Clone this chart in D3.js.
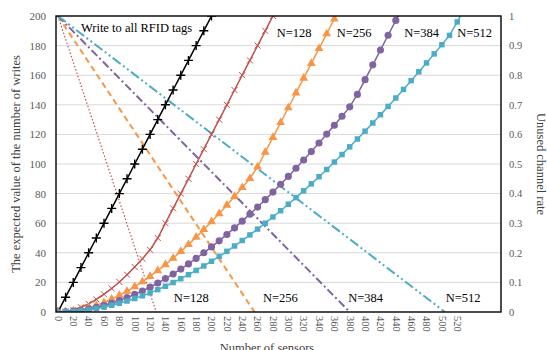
<!DOCTYPE html>
<html>
<head>
<meta charset="utf-8">
<script src="https://cdn.jsdelivr.net/npm/d3@7"></script>
<style>
    body { margin: 0; background: #fff; }
    svg { display: block; font-family: "Liberation Serif", "Times New Roman", serif; }
</style>
</head>
<body>
<svg id="chart" width="547" height="350"></svg>
<script>
// x categories (number of sensors)
const sensors = [0, 10, 20, 30, 40, 50, 60, 70, 80, 90, 100, 110, 120, 130, 140, 150, 160, 170, 180, 190,
    200, 210, 220, 230, 240, 250, 260, 270, 280, 290, 300, 310, 320, 330, 340, 350, 360, 370, 380, 390,
    400, 410, 420, 430, 440, 450, 460, 470, 480, 490, 500, 510, 520, 530];

// expected number of writes (left axis)
const writesAll = [0, 10, 20, 30, 40, 50, 60, 70, 80, 90, 100, 110, 120, 130, 140, 150, 160, 170, 180, 190, 200];
const writes128 = [0, 0.4, 1.4, 3.2, 5.5, 8.5, 12.0, 15.9, 20.3, 25.2, 30.4, 36.0, 42.0, 50, 60, 70, 80, 90,
    100, 110, 120, 130, 140, 150, 160, 170, 180, 190, 200];
const writes256 = [0, 0.2, 0.7, 1.6, 2.9, 4.5, 6.4, 8.7, 11.2, 14.0, 17.1, 20.4, 24.1, 27.9, 32.0, 36.3, 40.9,
    45.6, 50.6, 55.7, 61.0, 66.5, 72.2, 78.1, 84.1, 90.2, 98, 108, 118, 128, 138, 148, 158, 168, 178, 188, 198, 208];
const writes384 = [0, 0.1, 0.5, 1.1, 2.0, 3.1, 4.4, 5.9, 7.7, 9.7, 11.9, 14.2, 16.8, 19.6, 22.6, 25.7, 29.0,
    32.5, 36.2, 40.0, 44.0, 48.1, 52.4, 56.8, 61.4, 66.1, 70.9, 75.9, 81.0, 86.3, 91.6, 97.1, 102.7, 108.4,
    114.2, 120.2, 126.2, 132.3, 138.6, 147, 157, 167, 177, 187, 197, 207];
const writes512 = [0, 0.1, 0.4, 0.8, 1.5, 2.3, 3.3, 4.5, 5.9, 7.4, 9.1, 10.9, 12.9, 15.1, 17.4, 19.9, 22.5,
    25.2, 28.1, 31.1, 34.3, 37.6, 41.0, 44.6, 48.3, 52.1, 56.0, 60.0, 64.2, 68.4, 72.8, 77.3, 81.9, 86.6,
    91.4, 96.3, 101.3, 106.4, 111.6, 116.9, 122.2, 127.7, 133.3, 138.9, 144.6, 150.4, 156.3, 162.3, 168.3,
    174.4, 180.6, 186.9, 196, 206];

// unused channel rate (right axis): start and end points
const unusedSensors = { n128: [0, 128], n256: [0, 256], n384: [0, 380], n512: [0, 504] };
const unusedRate = [1, 0];

const xTicks = d3.range(0, 521, 20);
const yTicks = [0, 20, 40, 60, 80, 100, 120, 140, 160, 180, 200];
const y2Ticks = [0, 0.1, 0.2, 0.3, 0.4, 0.5, 0.6, 0.7, 0.8, 0.9, 1];

const svg = d3.select("#chart");
const margin = { top: 16, right: 46, bottom: 38, left: 56 },
    width = +svg.attr("width") - margin.left - margin.right,
    height = +svg.attr("height") - margin.top - margin.bottom,
    g = svg.append("g").attr("transform", "translate(" + margin.left + "," + margin.top + ")");

const x = d3.scaleLinear().domain([-2.5, 577]).range([0, width]);
const y = d3.scaleLinear().domain([0, 200]).range([height, 0]);
const y2 = d3.scaleLinear().domain([0, 1]).range([height, 0]);

g.append("clipPath").attr("id", "plot-clip")
    .append("rect").attr("width", width).attr("height", height);

// gridlines
g.append("g")
    .selectAll("line")
    .data(yTicks.slice(1, -1))
    .enter().append("line")
    .attr("x1", 0).attr("x2", width)
    .attr("y1", d => y(d)).attr("y2", d => y(d))
    .attr("stroke", "#d9d9d9").attr("stroke-width", 1);

// left axis labels
g.append("g")
    .attr("class", "axis y-axis")
    .call(d3.axisLeft(y).tickValues(yTicks).tickSize(0).tickPadding(10))
    .call(a => a.select(".domain").remove())
    .selectAll("text")
    .attr("font-family", "Liberation Serif").attr("font-size", 11).attr("fill", "#595959");

// right axis labels
g.append("g")
    .attr("class", "axis y2-axis")
    .attr("transform", "translate(" + width + ",0)")
    .call(d3.axisRight(y2).tickValues(y2Ticks).tickFormat(d3.format("")).tickSize(0).tickPadding(8))
    .call(a => a.select(".domain").remove())
    .selectAll("text")
    .attr("font-family", "Liberation Serif").attr("font-size", 10.5).attr("fill", "#595959");

// bottom axis labels, rotated
g.append("g")
    .attr("class", "axis x-axis")
    .attr("transform", "translate(0," + height + ")")
    .call(d3.axisBottom(x).tickValues(xTicks).tickSize(0))
    .call(a => a.select(".domain").remove())
    .selectAll("text")
    .attr("font-family", "Liberation Serif").attr("font-size", 10.5).attr("fill", "#595959")
    .attr("transform", "rotate(90)")
    .attr("text-anchor", "start")
    .attr("x", 4).attr("y", 0).attr("dy", "0.35em");

const plot = g.append("g").attr("clip-path", "url(#plot-clip)");

// unused channel rate lines
const unusedLines = [
    { key: "n128", color: "#c0504d", width: 1.2, dash: "1.5,2" },
    { key: "n256", color: "#f79646", width: 2, dash: "6,4" },
    { key: "n384", color: "#8064a2", width: 2, dash: "8,3,2,3" },
    { key: "n512", color: "#4bacc6", width: 2, dash: "10,3,2,3,2,3" }
];
const lineRate = d3.line().x(d => x(d[0])).y(d => y2(d[1]));
plot.append("g")
    .selectAll("path")
    .data(unusedLines)
    .enter().append("path")
    .attr("fill", "none")
    .attr("stroke", d => d.color)
    .attr("stroke-width", d => d.width)
    .attr("stroke-dasharray", d => d.dash)
    .attr("d", d => lineRate(d3.zip(unusedSensors[d.key], unusedRate)));

// expected writes curves
const writeSeries = [
    { values: writesAll, color: "#000000", marker: "plus" },
    { values: writes128, color: "#c0504d", marker: "cross" },
    { values: writes256, color: "#f79646", marker: "triangle" },
    { values: writes384, color: "#8064a2", marker: "circle" },
    { values: writes512, color: "#4bacc6", marker: "square" }
];
const lineWrites = d3.line().x(d => x(d[0])).y(d => y(d[1]));

const markerPath = {
    plus: "M-4.5,0H4.5M0,-4.5V4.5",
    cross: "M-3,-3L3,3M-3,3L3,-3",
    triangle: d3.symbol(d3.symbolTriangle, 34)(),
    circle: d3.symbol(d3.symbolCircle, 40)(),
    square: d3.symbol(d3.symbolSquare, 30)()
};

writeSeries.forEach(s => {
    const pts = d3.zip(sensors.slice(0, s.values.length), s.values);
    plot.append("path")
        .attr("fill", "none")
        .attr("stroke", s.color)
        .attr("stroke-width", 1.5)
        .attr("d", lineWrites(pts));

    const stroked = s.marker === "plus" || s.marker === "cross";
    plot.append("g")
        .selectAll("path")
        .data(pts)
        .enter().append("path")
        .attr("transform", d => "translate(" + x(d[0]) + "," + y(d[1]) + ")")
        .attr("d", markerPath[s.marker])
        .attr("fill", stroked ? "none" : s.color)
        .attr("stroke", s.color)
        .attr("stroke-width", stroked ? (s.marker === "plus" ? 1.4 : 1) : 0);
});

// plot border
g.append("rect")
    .attr("width", width).attr("height", height)
    .attr("fill", "none").attr("stroke", "#000").attr("stroke-width", 1.4);

// in-plot labels
const labels = [
    { text: "Write to all RFID tags", n: 30, v: 189.5 },
    { text: "N=128", n: 285, v: 186 },
    { text: "N=256", n: 363, v: 186 },
    { text: "N=384", n: 451, v: 186 },
    { text: "N=512", n: 520, v: 186 },
    { text: "N=128", n: 151, v: 7 },
    { text: "N=256", n: 267, v: 7 },
    { text: "N=384", n: 378, v: 7 },
    { text: "N=512", n: 505, v: 7 }
];
g.append("g")
    .selectAll("text")
    .data(labels)
    .enter().append("text")
    .attr("x", d => x(d.n))
    .attr("y", d => y(d.v))
    .attr("font-size", 12.5)
    .attr("fill", "#000")
    .text(d => d.text);

// axis titles
svg.append("text")
    .attr("transform", "translate(20," + (margin.top + height / 2) + ") rotate(-90)")
    .attr("text-anchor", "middle")
    .attr("font-size", 12.5).attr("fill", "#404040")
    .text("The expected value of the number of writes");

svg.append("text")
    .attr("transform", "translate(537," + (margin.top + height / 2) + ") rotate(90)")
    .attr("text-anchor", "middle")
    .attr("font-size", 12.5).attr("fill", "#404040")
    .text("Unused channel rate");

svg.append("text")
    .attr("x", 267).attr("y", 352)
    .attr("text-anchor", "middle")
    .attr("font-size", 12.5).attr("fill", "#404040")
    .text("Number of sensors");
</script>
</body>
</html>
